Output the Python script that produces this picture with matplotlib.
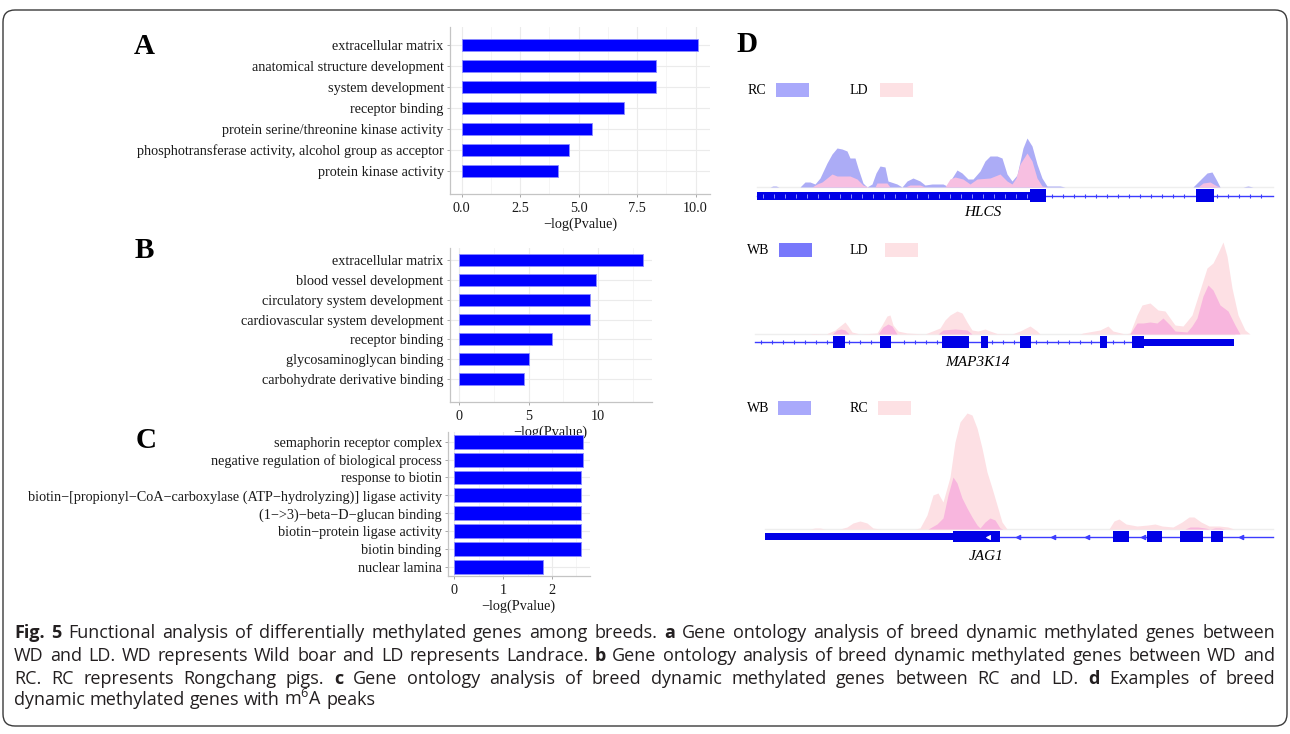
import numpy as np
import matplotlib
matplotlib.use("Agg")
import matplotlib.pyplot as plt
from matplotlib import font_manager
from matplotlib.patches import FancyBboxPatch, Rectangle

W, H = 1290, 734
SERIF = "Liberation Serif"
plt.rcParams["font.family"] = [SERIF, "DejaVu Serif"]
plt.rcParams["mathtext.default"] = "regular"

# ---------------- data: GO enrichment (-log Pvalue) ----------------
a_terms = ["extracellular matrix", "anatomical structure development",
           "system development", "receptor binding",
           "protein serine/threonine kinase activity",
           "phosphotransferase activity, alcohol group as acceptor",
           "protein kinase activity"]
a_vals = [10.1, 8.3, 8.32, 6.95, 5.57, 4.6, 4.1]
a_ticks = [0.0, 2.5, 5.0, 7.5, 10.0]
a_ticklabels = ["0.0", "2.5", "5.0", "7.5", "10.0"]

b_terms = ["extracellular matrix", "blood vessel development",
           "circulatory system development", "cardiovascular system development",
           "receptor binding", "glycosaminoglycan binding",
           "carbohydrate derivative binding"]
b_vals = [13.2, 9.83, 9.45, 9.45, 6.68, 5.0, 4.67]
b_ticks = [0, 5, 10]

c_terms = ["semaphorin receptor complex",
           "negative regulation of biological process",
           "response to biotin",
           "biotin\u2212[propionyl\u2212CoA\u2212carboxylase (ATP\u2212hydrolyzing)] ligase activity",
           "(1\u2212>3)\u2212beta\u2212D\u2212glucan binding",
           "biotin\u2212protein ligase activity", "biotin binding", "nuclear lamina"]
c_vals = [2.64, 2.64, 2.6, 2.6, 2.6, 2.6, 2.6, 1.82]
c_ticks = [0, 1, 2]

# ---------------- data: m6A coverage tracks (position, height) ----------------
# HLCS: RC (blue) and LD (pink)
hlcs_rc_pos = [770, 773, 776, 779, 800, 805, 810, 815, 820, 827, 832, 837, 842, 847, 850,
               855, 858, 863, 867, 872, 876, 880, 885, 888, 897, 902, 907, 913, 920, 925,
               932, 943, 947, 952, 957, 962, 968, 973, 980, 985, 990, 997, 1002, 1007,
               1012, 1017, 1023, 1027, 1032, 1037, 1042, 1047, 1060, 1065, 1193, 1202,
               1207, 1212, 1217, 1220, 1243, 1248, 1253]
hlcs_rc_h = [0, 1, 1, 0, 0, 5, 5, 3, 9, 24, 33, 39, 38, 36, 29,
             29, 19, 4, 0, 3, 14, 21, 20, 6, 3, 0, 6, 9, 6, 2,
             3, 3, 1, 9, 17, 14, 8, 8, 16, 26, 31, 31, 29, 13,
             6, 12, 39, 49, 41, 23, 9, 1, 1, 0, 0, 9,
             14, 15, 6, 0, 0, 1, 0]
hlcs_ld_pos = [812, 817, 822, 827, 832, 837, 850, 857, 863, 868, 875, 877, 887, 890, 905,
               910, 920, 925, 945, 950, 955, 963, 970, 977, 990, 1000, 1007, 1012, 1016,
               1020, 1027, 1032, 1037, 1042, 1047, 1198, 1203, 1210, 1217, 1220]
hlcs_ld_h = [0, 3, 5, 9, 13, 11, 11, 8, 2, 0, 0, 4, 4, 0, 0,
             2, 2, 0, 0, 8, 10, 8, 3, 8, 9, 13, 6, 3, 9,
             23, 34, 26, 9, 1, 0, 0, 4, 5, 1, 0]

# MAP3K14: LD (light pink) and WB (dark pink)
map_ld_pos = [810, 813, 826, 835, 840, 845, 848, 852, 860, 877, 882, 887, 890, 893, 898,
              907, 925, 930, 940, 945, 950, 957, 962, 967, 972, 978, 985, 990, 997, 1012,
              1020, 1030, 1037, 1040, 1080, 1083, 1100, 1108, 1113, 1125, 1130, 1137,
              1142, 1150, 1158, 1165, 1170, 1175, 1183, 1192, 1200, 1207, 1213, 1218,
              1223, 1227, 1232, 1238, 1245, 1250]
map_ld_h = [0, 0.5, 0, 4, 8, 12, 8, 2, 0, 1, 9, 18, 19, 9, 3,
            1, 0, 2, 6, 14, 19, 23, 21, 12, 4, 3, 5, 3, 0.5, 0,
            3, 8, 3, 0, 0, 1, 4, 8, 3, 0, 1, 19,
            29, 31, 24, 23, 16, 9, 8, 19, 44, 66, 71, 81,
            92, 78, 46, 19, 4, 0]
map_wb_pos = [832, 837, 841, 845, 849, 878, 883, 888, 892, 897, 938, 943, 955, 967, 972,
              1130, 1137, 1143, 1150, 1157, 1163, 1170, 1175, 1187, 1192, 1197, 1203,
              1208, 1213, 1220, 1228, 1235, 1240]
map_wb_h = [0, 4, 5, 4, 0, 0, 7, 10, 8, 0, 0, 4, 5, 4, 0,
            0, 11, 11, 12, 11, 16, 9, 3, 2, 8, 16, 38,
            49, 44, 29, 23, 9, 0]

# JAG1: RC (light pink) and WB (dark pink)
jag_rc_pos = [810, 815, 820, 825, 840, 847, 853, 860, 867, 873, 880, 915, 920, 927, 933,
              938, 943, 950, 955, 960, 967, 972, 977, 982, 987, 992, 997, 1002, 1007,
              1109, 1114, 1119, 1126, 1137, 1148, 1155, 1162, 1173, 1182, 1189, 1194,
              1201, 1209, 1219, 1228, 1234]
jag_rc_h = [0, 1, 1, 0, 0, 2, 6, 8, 6, 1, 0, 0, 1, 14, 34,
            36, 27, 52, 87, 107, 116, 114, 101, 81, 57, 41, 24, 7, 0,
            0, 8, 10, 5, 3, 4, 5, 3, 2, 7, 12, 12,
            7, 3, 3, 2, 0]
jag_wb_pos = [928, 930, 937, 943, 948, 953, 957, 962, 967, 972, 977, 980, 985, 990, 995,
              1000, 1003, 1185, 1190, 1198, 1205, 1210, 1215, 1220, 1225]
jag_wb_h = [0, 1, 5, 11, 34, 52, 46, 31, 21, 12, 4, 1, 7, 11, 9,
            1, 0, 0, 2, 2, 1, 0, 1, 1, 0]

# gene models: intron line, thick (UTR) blocks, exons
hlcs_line = (757, 1273)
hlcs_thick = [(757, 1030)]
hlcs_exons = [(1030, 1046), (1196, 1214)]
map_line = (755, 1140)
map_thick = [(1144, 1234)]
map_exons = [(833, 845), (880, 891), (942, 969), (981, 988), (1020, 1031),
             (1100, 1107), (1132, 1144)]
jag_line = (1000, 1273)
jag_thick = [(765, 953)]
jag_exons = [(953, 1000), (1113, 1129), (1147, 1162), (1180, 1203), (1211, 1223)]
jag_arrows = [1018, 1053, 1087, 1143, 1241]

CAPTION = [
    "**Fig.** **5** Functional analysis of differentially methylated genes among breeds. **a** Gene ontology analysis of breed dynamic methylated genes between",
    "WD and LD. WD represents Wild boar and LD represents Landrace. **b** Gene ontology analysis of breed dynamic methylated genes between WD and",
    "RC. RC represents Rongchang pigs. **c** Gene ontology analysis of breed dynamic methylated genes between RC and LD. **d** Examples of breed",
    "dynamic methylated genes with m$^6$A peaks",
]

BLUE_BAR = "#0000ff"
EXON = "#0000e6"
LINE = "#3c3cff"


def rect(l, t, r, b):
    return [l / W, 1 - b / H, (r - l) / W, (b - t) / H]


def pick_font(names):
    for n in names:
        try:
            font_manager.findfont(n, fallback_to_default=False)
            return n
        except ValueError:
            pass
    return "DejaVu Sans"


fig = plt.figure(figsize=(W / 100, H / 100), dpi=100)
bg = fig.add_axes([0, 0, 1, 1])
bg.set_xlim(0, W)
bg.set_ylim(H, 0)
bg.axis("off")


def go_panel(px, terms, vals, ticks, ticklabels, ylim, bar_h):
    ax = fig.add_axes(rect(*px))
    ax.set_facecolor("none")
    y = np.arange(len(terms))
    ax.barh(y, vals, height=bar_h, color=BLUE_BAR, edgecolor="#8c8cff",
            linewidth=0.6, zorder=3)
    ax.set_yticks(y)
    ax.set_yticklabels(terms)
    ax.set_xticks(ticks)
    ax.set_xticklabels(ticklabels)
    mids = [(ticks[i] + ticks[i + 1]) / 2 for i in range(len(ticks) - 1)]
    mids.append(ticks[-1] + (ticks[1] - ticks[0]) / 2)
    ax.set_xticks(mids, minor=True)
    # limits last: set_xticks may widen the view
    vmax = max(vals)
    ax.set_xlim(-0.05 * vmax, vmax * 1.05)
    ax.set_ylim(*ylim)
    ax.grid(True, which="major", color="#ebebeb", lw=0.8, zorder=0)
    ax.grid(True, which="minor", axis="x", color="#f4f4f4", lw=0.6, zorder=0)
    ax.tick_params(which="minor", length=0)
    ax.tick_params(which="major", length=2.5, width=0.6, color="#9a9a9a",
                   labelsize=10.3, pad=2, labelcolor="#1a1a1a")
    ax.tick_params(axis="x", pad=3.5)
    for s in ["top", "right"]:
        ax.spines[s].set_visible(False)
    for s in ["left", "bottom"]:
        ax.spines[s].set_color("#c4c4c4")
        ax.spines[s].set_linewidth(0.9)
    ax.set_xlabel("\u2212log(Pvalue)", fontsize=10.3, labelpad=1.5, color="#1a1a1a")
    return ax


go_panel((450, 27, 709.7, 194), a_terms, a_vals, a_ticks, a_ticklabels,
         (7.1, -0.86), 0.6)
go_panel((449.8, 248, 651.7, 401.7), b_terms, b_vals, b_ticks,
         [str(t) for t in b_ticks], (7.15, -0.61), 0.6)
go_panel((448, 432, 589.5, 576), c_terms, c_vals, c_ticks,
         [str(t) for t in c_ticks], (7.5, -0.54), 0.78)

for letter, x, y in [("A", 144, 46), ("B", 144, 251), ("C", 146, 441), ("D", 747, 44)]:
    bg.text(x, y, letter, fontsize=21, fontweight="bold", family=SERIF,
            ha="center", va="center")


def track(px, base, layers, line, thick, exons, exon_h, thick_h, marks, mark_style):
    l, t, r, b = px
    ax = fig.add_axes(rect(l, t, r, b))
    ax.set_xlim(l, r)
    ax.set_ylim(base - b, base - t)
    ax.axis("off")
    gy = -(exon_h / 2 + 2)
    ax.plot([min(line[0], thick[0][0]), max(line[1], thick[-1][1])], [0.5, 0.5],
            color="#eeeeee", lw=1, zorder=1)
    for pos, h, col in layers:
        ax.fill_between(pos, 0, h, color=col, lw=0, zorder=2)
    ax.plot(line, [gy, gy], color=LINE, lw=1, zorder=3)
    for s, e in thick:
        ax.add_patch(Rectangle((s, gy - thick_h / 2), e - s, thick_h, color=EXON, lw=0, zorder=4))
    for s, e in exons:
        ax.add_patch(Rectangle((s, gy - exon_h / 2), e - s, exon_h, color=EXON, lw=0, zorder=4))
    ax.plot(marks, [gy] * len(marks), ls="none", marker=mark_style, ms=3.2, mew=0.8,
            color=LINE, zorder=5)
    return ax, gy


def intron_marks(line, blocks, step=11):
    xs = np.arange(line[0] + 6, line[1] - 3, step)
    return [x for x in xs if not any(s - 2 <= x <= e + 2 for s, e in blocks)]


# HLCS
ax1, gy1 = track((745, 125, 1280, 205), 187,
                 [(hlcs_rc_pos, hlcs_rc_h, "#acacf6"), (hlcs_ld_pos, hlcs_ld_h, "#f7bfe1")],
                 hlcs_line, hlcs_thick, hlcs_exons, 13, 8,
                 intron_marks((1046, 1273), hlcs_exons), "|")
inner = np.arange(763, 1028, 11)
ax1.plot(inner, [gy1] * len(inner), ls="none", marker="|", ms=2.5, mew=0.7,
         color="#8f8fff", zorder=5)

# MAP3K14
ax2, gy2 = track((745, 225, 1280, 355), 334,
                 [(map_ld_pos, map_ld_h, "#fde0e4"), (map_wb_pos, map_wb_h, "#f8b6de")],
                 map_line, map_thick, map_exons, 12, 7,
                 intron_marks(map_line, map_exons), "|")

# JAG1
ax3, gy3 = track((745, 400, 1280, 550), 529,
                 [(jag_rc_pos, jag_rc_h, "#fde0e4"), (jag_wb_pos, jag_wb_h, "#f8b6de")],
                 jag_line, jag_thick, jag_exons, 11, 7, jag_arrows, "<")
ax3.plot([988], [gy3], ls="none", marker="<", ms=3, mew=0.6, color="white", zorder=6)

# track legends and gene names
legends = [
    (90, [("RC", 748, 776, "#a9a9fb"), ("LD", 850, 880, "#fde1e4")]),
    (250, [("WB", 747, 779, "#7878fb"), ("LD", 850, 885, "#fde1e4")]),
    (408, [("WB", 747, 778, "#a9a9fb"), ("RC", 850, 878, "#fde1e4")]),
]
for yc, items in legends:
    for lab, tx, sx, col in items:
        bg.text(tx, yc, lab, fontsize=10, family=SERIF, ha="left", va="center")
        bg.add_patch(Rectangle((sx, yc - 7), 33, 14, color=col, lw=0))
for name, x, y in [("HLCS", 983, 213), ("MAP3K14", 977, 363), ("JAG1", 986, 557)]:
    bg.text(x, y, name, fontsize=11, family=SERIF, style="italic", ha="center", va="center")

# frame
bg.add_patch(FancyBboxPatch((3, 10), 1284, 716, boxstyle="round,pad=0,rounding_size=12",
                            fill=False, ec="#3a3a3a", lw=1.0))

# caption with justified lines
cap_font = pick_font(["Liberation Sans Narrow", "Open Sans", "DejaVu Sans"])
renderer = fig.canvas.get_renderer()


def tokens(line):
    out = []
    for w in line.split(" "):
        if w.startswith("**") and w.endswith("**"):
            out.append((w[2:-2], "bold"))
        else:
            out.append((w, "normal"))
    return out


def measure(s, size, weight="normal"):
    t = bg.text(0, 0, s, fontsize=size, family=cap_font, fontweight=weight)
    w = t.get_window_extent(renderer).width
    t.remove()
    return w


X0, X1 = 14, 1275
probe = 10.0
toks0 = tokens(CAPTION[0])
nat = sum(measure(w, probe, wt) for w, wt in toks0)
sp = measure("x x", probe) - measure("xx", probe)
nat += sp * (len(toks0) - 1)
cap_size = min(probe * (X1 - X0) / nat * 0.985, 13.0)
space = measure("x x", cap_size) - measure("xx", cap_size)

for i, (line, yb) in enumerate(zip(CAPTION, [638, 661, 684, 705])):
    toks = tokens(line)
    arts = [bg.text(X0, yb, w, fontsize=cap_size, family=cap_font, fontweight=wt,
                    va="baseline", ha="left", color="#231f20") for w, wt in toks]
    widths = [a.get_window_extent(renderer).width for a in arts]
    if i < len(CAPTION) - 1:
        gap = (X1 - X0 - sum(widths)) / (len(arts) - 1)
    else:
        gap = space
    x = X0
    for a, w in zip(arts, widths):
        a.set_x(x)
        x += w + gap

fig.savefig("out.png", dpi=100)
